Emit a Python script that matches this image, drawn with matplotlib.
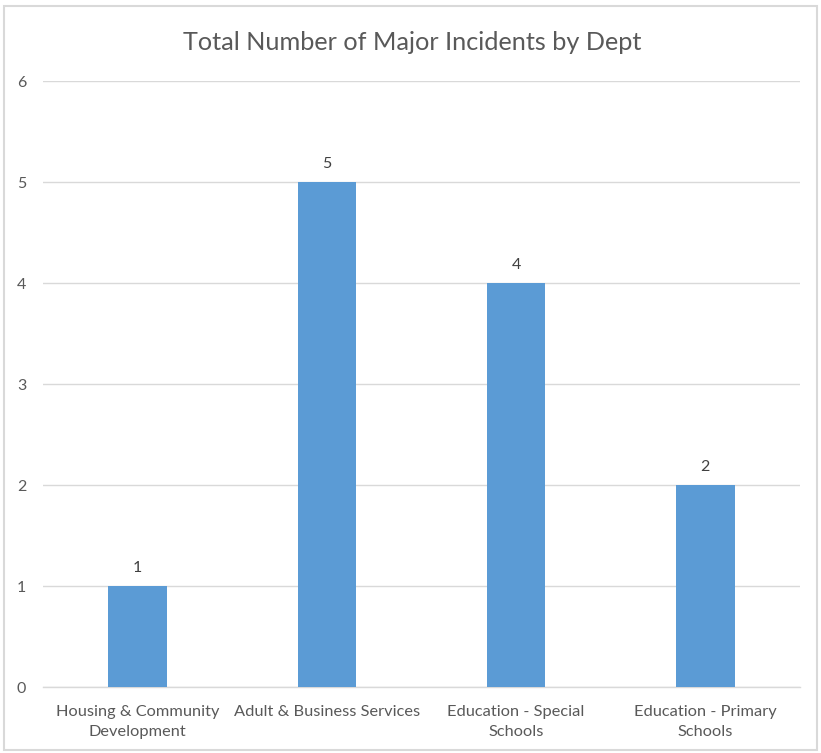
import matplotlib.pyplot as plt
from matplotlib.patches import Rectangle

departments = [
    "Housing & Community\nDevelopment",
    "Adult & Business Services",
    "Education - Special\nSchools",
    "Education - Primary\nSchools",
]
incidents = [1, 5, 4, 2]
y_ticks = [0, 1, 2, 3, 4, 5, 6]

BAR_COLOR = "#5B9BD5"
TEXT_COLOR = "#595959"
GRID_COLOR = "#D9D9D9"

plt.rcParams["font.family"] = ["Lato", "DejaVu Sans"]

fig = plt.figure(figsize=(8.21, 7.53), dpi=100)
ax = fig.add_axes([0.0524, 0.0876, 0.922, 0.8048])

# light border round the whole chart, like an Excel chart area
fig.patches.append(
    Rectangle((0.005, 0.004), 0.99, 0.988, transform=fig.transFigure,
              fill=False, edgecolor="#D9D9D9", linewidth=1.5)
)

x = range(len(departments))
bars = ax.bar(x, incidents, width=0.31, color=BAR_COLOR, zorder=3)
for rect, val in zip(bars, incidents):
    ax.annotate(str(val), (rect.get_x() + rect.get_width() / 2, val),
                xytext=(0, 8), textcoords="offset points",
                ha="center", va="bottom", fontsize=11.5, color="#404040")

ax.set_xlim(-0.5, len(departments) - 0.5)
ax.set_ylim(0, 6)
ax.set_yticks(y_ticks)
ax.set_xticks(list(x))
ax.set_xticklabels(departments, fontsize=11.8, color=TEXT_COLOR, linespacing=1.55)
ax.tick_params(axis="y", length=0, pad=12, labelsize=11.5, labelcolor=TEXT_COLOR)
ax.tick_params(axis="x", length=0, pad=13)
for lab in ax.get_yticklabels():
    lab.set_horizontalalignment("right")

ax.grid(axis="y", color=GRID_COLOR, linewidth=1, zorder=0)
for side in ["left", "right", "top"]:
    ax.spines[side].set_visible(False)
ax.spines["bottom"].set_color(GRID_COLOR)
ax.spines["bottom"].set_linewidth(1)

fig.text(0.502, 0.944, "Total Number of Major Incidents by Dept",
         ha="center", va="center", fontsize=18.2, color=TEXT_COLOR)

fig.savefig("out.png", dpi=100)
